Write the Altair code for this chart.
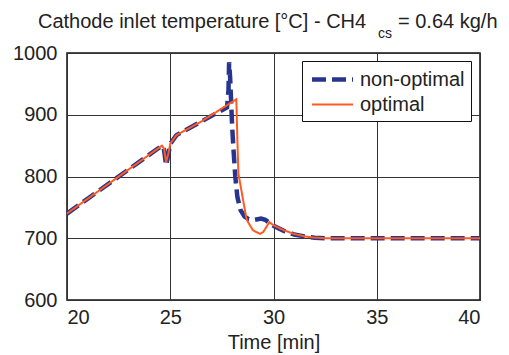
import altair as alt
import pandas as pd

# --- data ---
nonopt_t = [20.0, 24.6, 24.7, 24.8, 24.9, 25.0, 25.3, 26.5, 27.75, 27.82, 27.85, 27.9, 27.95, 28.0, 28.07, 28.15, 28.25,
            28.4, 28.6, 28.8, 29.1, 29.4, 29.6, 29.8, 30.0, 30.5, 31.0, 31.5, 32.0, 32.5, 40.0]
nonopt_v = [740, 850, 843, 818, 834, 853, 867, 889, 912, 940, 985, 960, 920, 880, 840, 800, 767,
            746, 735, 731, 730, 732, 730, 725, 720, 712, 706, 703, 701, 700, 700]
opt_t = [20.0, 24.6, 24.7, 24.8, 24.9, 25.0, 25.3, 26.5, 28.2, 28.25, 28.3, 28.5, 28.7, 29.0, 29.35, 29.5, 29.8,
         30.0, 30.5, 31.0, 31.5, 32.0, 32.5, 40.0]
opt_v = [740, 850, 845, 823, 836, 853, 867, 889, 925, 860, 805, 767, 730, 713, 707, 710, 726,
         721, 713, 707, 703, 701, 700, 700]

series = ["non-optimal", "optimal"]
colors = ["#28358f", "#ff5a1f"]
x_ticks = [20, 25, 30, 35, 40]
y_ticks = [600, 700, 800, 900, 1000]

df = pd.DataFrame({
    "t": nonopt_t + opt_t,
    "v": nonopt_v + opt_v,
    "s": [series[0]] * len(nonopt_t) + [series[1]] * len(opt_t),
    "o": list(range(len(nonopt_t))) + list(range(len(opt_t))),
})

FONT = "Liberation Sans"
FS = 20

leg = alt.Legend(title=None, orient="none", legendX=235, legendY=8)
lines = alt.Chart(df).mark_line(interpolate="linear").encode(
    x=alt.X("t:Q", scale=alt.Scale(domain=[20, 40], nice=False),
            axis=alt.Axis(values=x_ticks, title="Time [min]", grid=True)),
    y=alt.Y("v:Q", scale=alt.Scale(domain=[600, 1000], nice=False),
            axis=alt.Axis(values=y_ticks, title=None, grid=True, format="d")),
    order="o:Q",
    color=alt.Color("s:N", scale=alt.Scale(domain=series, range=colors), legend=leg),
    strokeDash=alt.StrokeDash("s:N", scale=alt.Scale(domain=series, range=[[14, 6], [1, 0]]), legend=leg),
    strokeWidth=alt.StrokeWidth("s:N", scale=alt.Scale(domain=series, range=[4.5, 2]), legend=leg),
)

one = pd.DataFrame({"a": [0]})
t1 = alt.Chart(one).mark_text(align="left", baseline="alphabetic", fontSize=FS, font=FONT, color="#222").encode(
    x=alt.value(-29), y=alt.value(-25), text=alt.value("Cathode inlet temperature [°C] - CH4"))
t2 = alt.Chart(one).mark_text(align="left", baseline="alphabetic", fontSize=14, font=FONT, color="#222").encode(
    x=alt.value(311), y=alt.value(-15), text=alt.value("cs"))
t3 = alt.Chart(one).mark_text(align="left", baseline="alphabetic", fontSize=FS, font=FONT, color="#222").encode(
    x=alt.value(331), y=alt.value(-25), text=alt.value("= 0.64 kg/h"))

chart = alt.layer(lines, t1, t2, t3).properties(
    width=413, height=247,
    autosize=alt.AutoSizeParams(type="none"),
    padding={"left": 67, "top": 53, "right": 29, "bottom": 55},
).configure_view(
    stroke="#111", strokeWidth=1.5
).configure_axis(
    domain=False, ticks=False, gridColor="#333", gridOpacity=1, gridWidth=1,
    labelFont=FONT, labelFontSize=FS, labelColor="#222",
    titleFont=FONT, titleFontSize=FS, titleColor="#222", titleFontWeight="normal",
).configure_axisX(
    labelPadding=7, titlePadding=5
).configure_axisY(
    labelPadding=10
).configure_legend(
    strokeColor="#111", fillColor="white", padding=6, labelFont=FONT, labelFontSize=FS,
    labelColor="#222", symbolType="M-2,0L2,0", symbolSize=420, symbolOffset=12,
    rowPadding=3, labelOffset=15, cornerRadius=0
)

chart.save("out.html", embed_options={"renderer": "svg", "actions": False})
